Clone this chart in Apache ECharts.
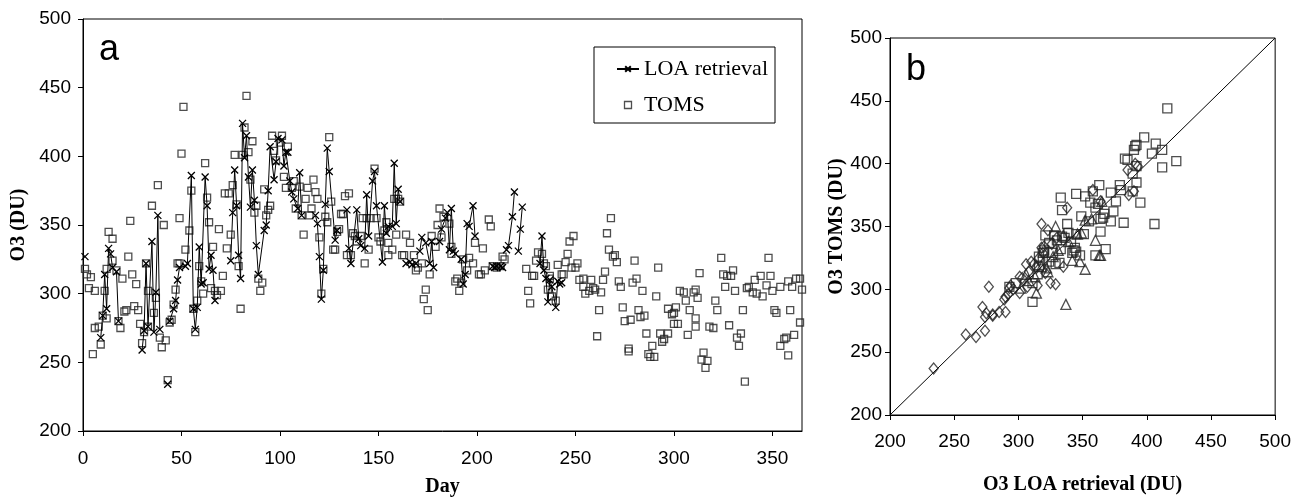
<!DOCTYPE html>
<html><head><meta charset="utf-8">
<script src="https://cdn.jsdelivr.net/npm/echarts@6/dist/echarts.min.js"></script>
<style>html,body{margin:0;padding:0;background:#fff}#c{width:1294px;height:502px}</style>
</head><body><div id="c"></div>
<script>
// ---------- Panel a: tick labels ----------
const dayTicks = [0, 50, 100, 150, 200, 250, 300, 350];
const o3Range = [200, 500];
const dayRange = [0, 365];

// ---------- Panel a: LOA retrieval (runs of consecutive days, [day, O3 DU]) ----------
const loaRun1 = [[1,327]];
const loaRun2 = [[9,268],[10,284],[11,314],[12,289],[13,333],[14,329],[15,319],[17,316],[18,280]];
const loaRun3 = [[30,259],[31,273],[32,322],[33,276],[35,338],[36,272],[37,301],[38,357],[39,274]];
const loaRun4 = [[43,234]];
const loaRun5 = [[44,280],[46,289],[47,295],[48,310],[49,319],[52,320],[53,322],[55,386],[56,289],[57,274],[58,290],[59,334],[60,307],[61,308],[62,385],[63,364],[64,318],[65,328],[66,317],[67,295]];
const loaRun6 = [[75,324],[76,359],[77,390],[78,364],[79,328],[80,311],[81,424],[82,399],[83,415],[84,385],[85,363],[86,390],[87,368],[88,335],[89,314],[92,346],[93,350],[94,375],[95,407],[97,383],[98,396],[99,413],[101,412],[102,393],[103,403],[104,403],[105,382],[106,374],[107,369],[109,362],[110,388],[111,357]];
const loaRun7 = [[118,357],[119,351],[120,327],[121,296],[122,317],[123,365],[124,406],[125,389],[128,339],[129,346]];
const loaRun8 = [[134,361],[135,333],[136,322],[139,361],[140,340],[141,335],[143,333],[144,372],[145,342],[147,382],[148,389],[149,364],[152,323],[153,364],[154,344],[155,349],[157,349],[158,395],[159,351],[160,376],[161,367]];
const loaRun9 = [[164,322],[166,323],[167,321],[169,322]];
const loaRun10 = [[171,331],[172,341],[174,337],[176,322],[177,338],[178,319]];
const loaRun11 = [[181,338],[182,347],[184,355],[185,359],[186,332],[187,362],[188,331],[189,329]];
const loaRun12 = [[192,325],[193,307],[194,314],[195,351],[196,349],[198,364],[199,342]];
const loaRun13 = [[208,320],[209,319],[210,320],[212,320],[213,319]];
const loaRun14 = [[215,332],[216,335],[218,356],[219,374]];
const loaRun15 = [[221,331],[222,347],[223,363]];
const loaRun16 = [[232,322],[233,342],[234,317],[235,311],[236,294],[237,310],[238,305],[240,290],[241,309],[242,307],[243,308]];
const loaRuns = [loaRun1, loaRun2, loaRun3, loaRun4, loaRun5, loaRun6, loaRun7, loaRun8, loaRun9, loaRun10, loaRun11, loaRun12, loaRun13, loaRun14, loaRun15, loaRun16];

// ---------- Panel a: TOMS ([day, O3 DU]) ----------
const tomsJanFeb = [[1,318],[2,314],[3,304],[4,312],[5,256],[6,302],[6,275],[8,276],[9,263],[10,284],[11,302],[12,282],[12,318],[13,345],[15,340],[15,324],[17,317],[18,280],[19,275],[20,311],[21,287],[22,288],[23,327],[24,353],[25,314],[26,291],[27,307],[28,288],[29,278],[30,264],[31,272],[32,322],[33,302],[33,276],[35,364],[36,286],[37,297],[38,379],[39,268],[40,261],[41,350],[42,266],[43,237],[44,279],[45,281],[46,292],[47,303],[48,322],[49,322],[49,355],[50,402],[51,436],[52,332]];
const tomsMarApr = [[54,346],[55,375],[56,289],[57,272],[58,295],[59,320],[60,309],[61,300],[62,395],[63,370],[64,352],[65,304],[66,334],[67,302],[68,299],[69,347],[70,302],[71,313],[72,373],[73,333],[74,373],[75,343],[76,379],[77,401],[78,365],[79,320],[80,289],[81,401],[82,421],[83,444],[84,403],[85,383],[86,411],[87,359],[88,364],[89,311],[90,302],[91,308],[92,376],[93,357],[94,361],[95,364],[96,415],[97,404],[98,397],[100,410],[101,415],[102,385],[103,377],[104,407]];
const tomsMayJun = [[106,377],[107,382],[108,362],[110,378],[111,357],[112,343],[113,369],[114,377],[115,357],[116,362],[117,383],[118,374],[119,369],[120,341],[121,300],[122,318],[123,356],[124,352],[125,414],[126,367],[127,332],[128,332],[129,345],[130,347],[131,358],[132,358],[133,371],[134,328],[135,373],[136,328],[137,344],[138,342],[139,338],[141,342],[142,355],[143,322],[144,355],[145,332],[146,355],[148,391],[149,355],[150,341],[151,338],[153,346],[154,352],[155,337],[155,328]];
const tomsJulAug = [[157,332],[158,369],[159,343],[160,369],[161,367],[162,328],[163,328],[164,343],[166,337],[168,328],[169,317],[170,319],[172,322],[173,296],[174,303],[175,288],[176,314],[177,342],[179,334],[180,350],[181,362],[182,341],[183,356],[186,351],[187,334],[187,329],[189,309],[190,311],[191,302],[192,308],[193,325],[195,317],[196,326],[198,322],[199,337],[201,314],[202,314],[203,333],[204,317],[206,354],[207,349],[208,320],[210,319],[212,320],[213,327],[214,325]];
const tomsSepOct = [[225,318],[226,302],[227,293],[228,313],[229,313],[230,324],[231,330],[233,329],[234,322],[235,320],[236,303],[237,313],[237,311],[238,298],[240,295],[241,321],[243,314],[244,314],[245,323],[246,329],[247,338],[248,319],[249,342],[250,319],[251,322],[252,310],[254,305],[254,311],[255,300],[257,302],[258,310],[259,304],[260,303],[261,269],[262,288],[263,301],[264,310],[265,316],[266,344],[267,332],[268,355],[269,327],[270,328],[271,323],[272,309],[273,305],[274,290],[275,280],[277,258],[277,260],[278,281],[279,308],[280,324],[281,311],[282,288],[283,283],[284,302],[285,284],[286,271],[287,256],[288,254],[289,262],[290,254],[291,298],[292,319],[293,271],[294,265],[295,267],[297,271],[297,289],[299,285],[300,286],[300,278],[301,290],[302,278],[303,302],[305,301]];
const tomsNovDec = [[306,295],[307,270],[308,288],[310,301],[311,303],[311,276],[311,282],[312,297],[313,315],[314,252],[315,257],[316,246],[317,251],[318,276],[320,275],[321,295],[322,288],[324,326],[325,314],[326,305],[327,313],[328,277],[329,313],[330,317],[331,302],[332,268],[333,262],[334,271],[335,288],[336,236],[337,304],[338,305],[340,301],[341,310],[342,300],[344,313],[345,298],[347,306],[348,326],[349,313],[350,302],[351,288],[352,286],[354,305],[354,262],[356,267],[357,268],[358,309],[358,255],[359,288],[360,305],[361,270],[362,311],[364,311],[364,279],[365,303]];
const tomsPoints = [].concat(tomsJanFeb, tomsMarApr, tomsMayJun, tomsJulAug, tomsSepOct, tomsNovDec);

// ---------- Panel b: [LOA retrieval, TOMS] ----------
const bSquares = [[416,444],[398,421],[407,416],[391,414],[392,415],[412,411],[390,411],[404,408],[383,404],[385,403],[423,402],[412,397],[392,398],[389,392],[392,385],[363,383],[379,383],[380,379],[389,378],[372,377],[358,378],[345,376],[352,374],[333,373],[395,369],[376,370],[356,369],[362,368],[360,365],[334,363],[374,362],[367,360],[349,358],[366,357],[355,354],[364,356],[372,354],[382,353],[406,352],[338,352],[339,345],[351,344],[321,343],[328,343],[334,342],[345,344],[364,346],[336,341],[330,339],[341,338],[324,337],[333,332],[344,333],[343,331],[368,332],[320,331],[345,330],[360,327],[348,327],[342,329],[319,329],[327,329],[316,326],[332,321],[329,320],[324,322],[319,323],[316,318],[315,312],[311,305],[311,290],[298,305],[293,302]];
const bDiamonds = [[234,237],[259,264],[267,262],[272,286],[277,302],[274,267],[274,278],[275,281],[280,280],[280,279],[285,282],[290,282],[289,292],[290,294],[292,296],[294,303],[293,301],[296,300],[301,297],[303,309],[301,310],[307,302],[306,320],[308,314],[310,322],[315,303],[312,320],[314,317],[316,325],[318,352],[323,347],[318,333],[319,329],[320,334],[321,313],[326,336],[330,341],[329,304],[325,305],[335,318],[338,365],[358,379],[364,370],[386,375],[390,378],[385,395],[391,400],[393,398]];
const bTriangles = [[337,288],[329,350],[352,355],[349,345],[360,339],[363,327],[364,327],[352,316],[348,322],[342,323],[323,314],[314,297],[306,312],[302,301],[308,307],[313,310],[318,318],[322,317],[327,326],[331,331],[335,343],[339,338],[346,344],[357,356],[365,370]];
const diagonalEnds = [200, 500];

const crossSymbol = 'path://M0,0L10,10M10,0L0,10';
const squareIcon = 'path://M0,0L10,0L10,10L0,10Z';
const sans = 'Liberation Sans';
const serif = 'Liberation Serif';

function axisCommon() {
  return {
    axisLine: { show: true, onZero: false, lineStyle: { color: '#000', width: 1 } },
    axisTick: { show: true, inside: false, length: 5, lineStyle: { color: '#000', width: 1 } },
    axisLabel: { color: '#000', fontFamily: sans, fontSize: 19 },
    splitLine: { show: false },
    nameTextStyle: { color: '#000', fontFamily: serif, fontSize: 20, fontWeight: 'bold' },
    nameLocation: 'middle'
  };
}

const loaSeries = loaRuns.map(run => ({
  name: 'LOA retrieval', type: 'line', xAxisIndex: 0, yAxisIndex: 0,
  data: run, symbol: crossSymbol, symbolSize: 7, showSymbol: true,
  lineStyle: { color: '#000', width: 1 },
  itemStyle: { color: '#000', borderColor: '#000', borderWidth: 1.3 },
  z: 3
}));

function hollow(name, data, symbol, size, xi) {
  return {
    name: name, type: 'scatter', xAxisIndex: xi, yAxisIndex: xi,
    data: data, symbol: symbol, symbolSize: size,
    itemStyle: { color: 'rgba(255,255,255,0)', borderColor: '#222', borderWidth: 1.3 },
    z: 2
  };
}

const chart = echarts.init(document.getElementById('c'), null, { renderer: 'canvas' });
chart.setOption({
  animation: false,
  backgroundColor: '#fff',
  grid: [
    { left: 83, top: 19, width: 719, height: 418, show: true, borderColor: '#000', borderWidth: 1, backgroundColor: 'rgba(0,0,0,0)' },
    { left: 890, top: 38, width: 387, height: 377, show: true, borderColor: '#000', borderWidth: 1, backgroundColor: 'rgba(0,0,0,0)' }
  ],
  xAxis: [
    Object.assign(axisCommon(), { type: 'value', gridIndex: 0, min: dayRange[0], max: dayRange[1], interval: 50, name: 'Day', nameGap: 46,
      axisTick: { show: true, length: 5, lineStyle: { color: '#000' }, customValues: dayTicks },
      axisLabel: { color: '#000', fontFamily: sans, fontSize: 19, margin: 18, customValues: dayTicks } }),
    Object.assign(axisCommon(), { type: 'value', gridIndex: 1, min: o3Range[0], max: o3Range[1], interval: 50, name: 'O3 LOA retrieval (DU)', nameGap: 60,
      axisLabel: { color: '#000', fontFamily: sans, fontSize: 19, margin: 17 } })
  ],
  yAxis: [
    Object.assign(axisCommon(), { type: 'value', gridIndex: 0, min: o3Range[0], max: o3Range[1], interval: 50, name: 'O3 (DU)', nameGap: 45,
      axisLabel: { color: '#000', fontFamily: sans, fontSize: 19, margin: 12 } }),
    Object.assign(axisCommon(), { type: 'value', gridIndex: 1, min: o3Range[0], max: o3Range[1], interval: 50, name: 'O3 TOMS (DU)', nameGap: 42,
      axisLabel: { color: '#000', fontFamily: sans, fontSize: 19, margin: 8 } })
  ],
  legend: {
    data: [
      { name: 'LOA retrieval' },
      { name: 'TOMS', icon: squareIcon, itemStyle: { color: 'rgba(255,255,255,0)', borderColor: '#222', borderWidth: 1.3 } }
    ],
    orient: 'vertical', left: 616, top: 58, padding: 0,
    itemWidth: 22, itemHeight: 7, itemGap: 14,
    textStyle: { color: '#000', fontFamily: serif, fontSize: 22 }
  },
  graphic: [
    { type: 'rect', shape: { x: 594, y: 47, width: 181, height: 76 }, style: { fill: 'none', stroke: '#000', lineWidth: 1 }, z: 10 },
    { type: 'text', x: 99, y: 50, style: { text: 'a', font: '36px "Liberation Sans"', fill: '#000', verticalAlign: 'middle' } },
    { type: 'text', x: 906, y: 70, style: { text: 'b', font: '36px "Liberation Sans"', fill: '#000', verticalAlign: 'middle' } }
  ],
  series: loaSeries.concat([
    hollow('TOMS', tomsPoints, 'rect', 7, 0),
    { name: 'one-to-one', type: 'line', xAxisIndex: 1, yAxisIndex: 1, data: [[diagonalEnds[0], diagonalEnds[0]], [diagonalEnds[1], diagonalEnds[1]]],
      symbol: 'none', lineStyle: { color: '#000', width: 1 }, z: 1 },
    hollow('squares', bSquares, 'rect', 9, 1),
    hollow('diamonds', bDiamonds, 'diamond', [9, 11], 1),
    hollow('triangles', bTriangles, 'triangle', 10, 1)
  ])
});
</script>
</body></html>
